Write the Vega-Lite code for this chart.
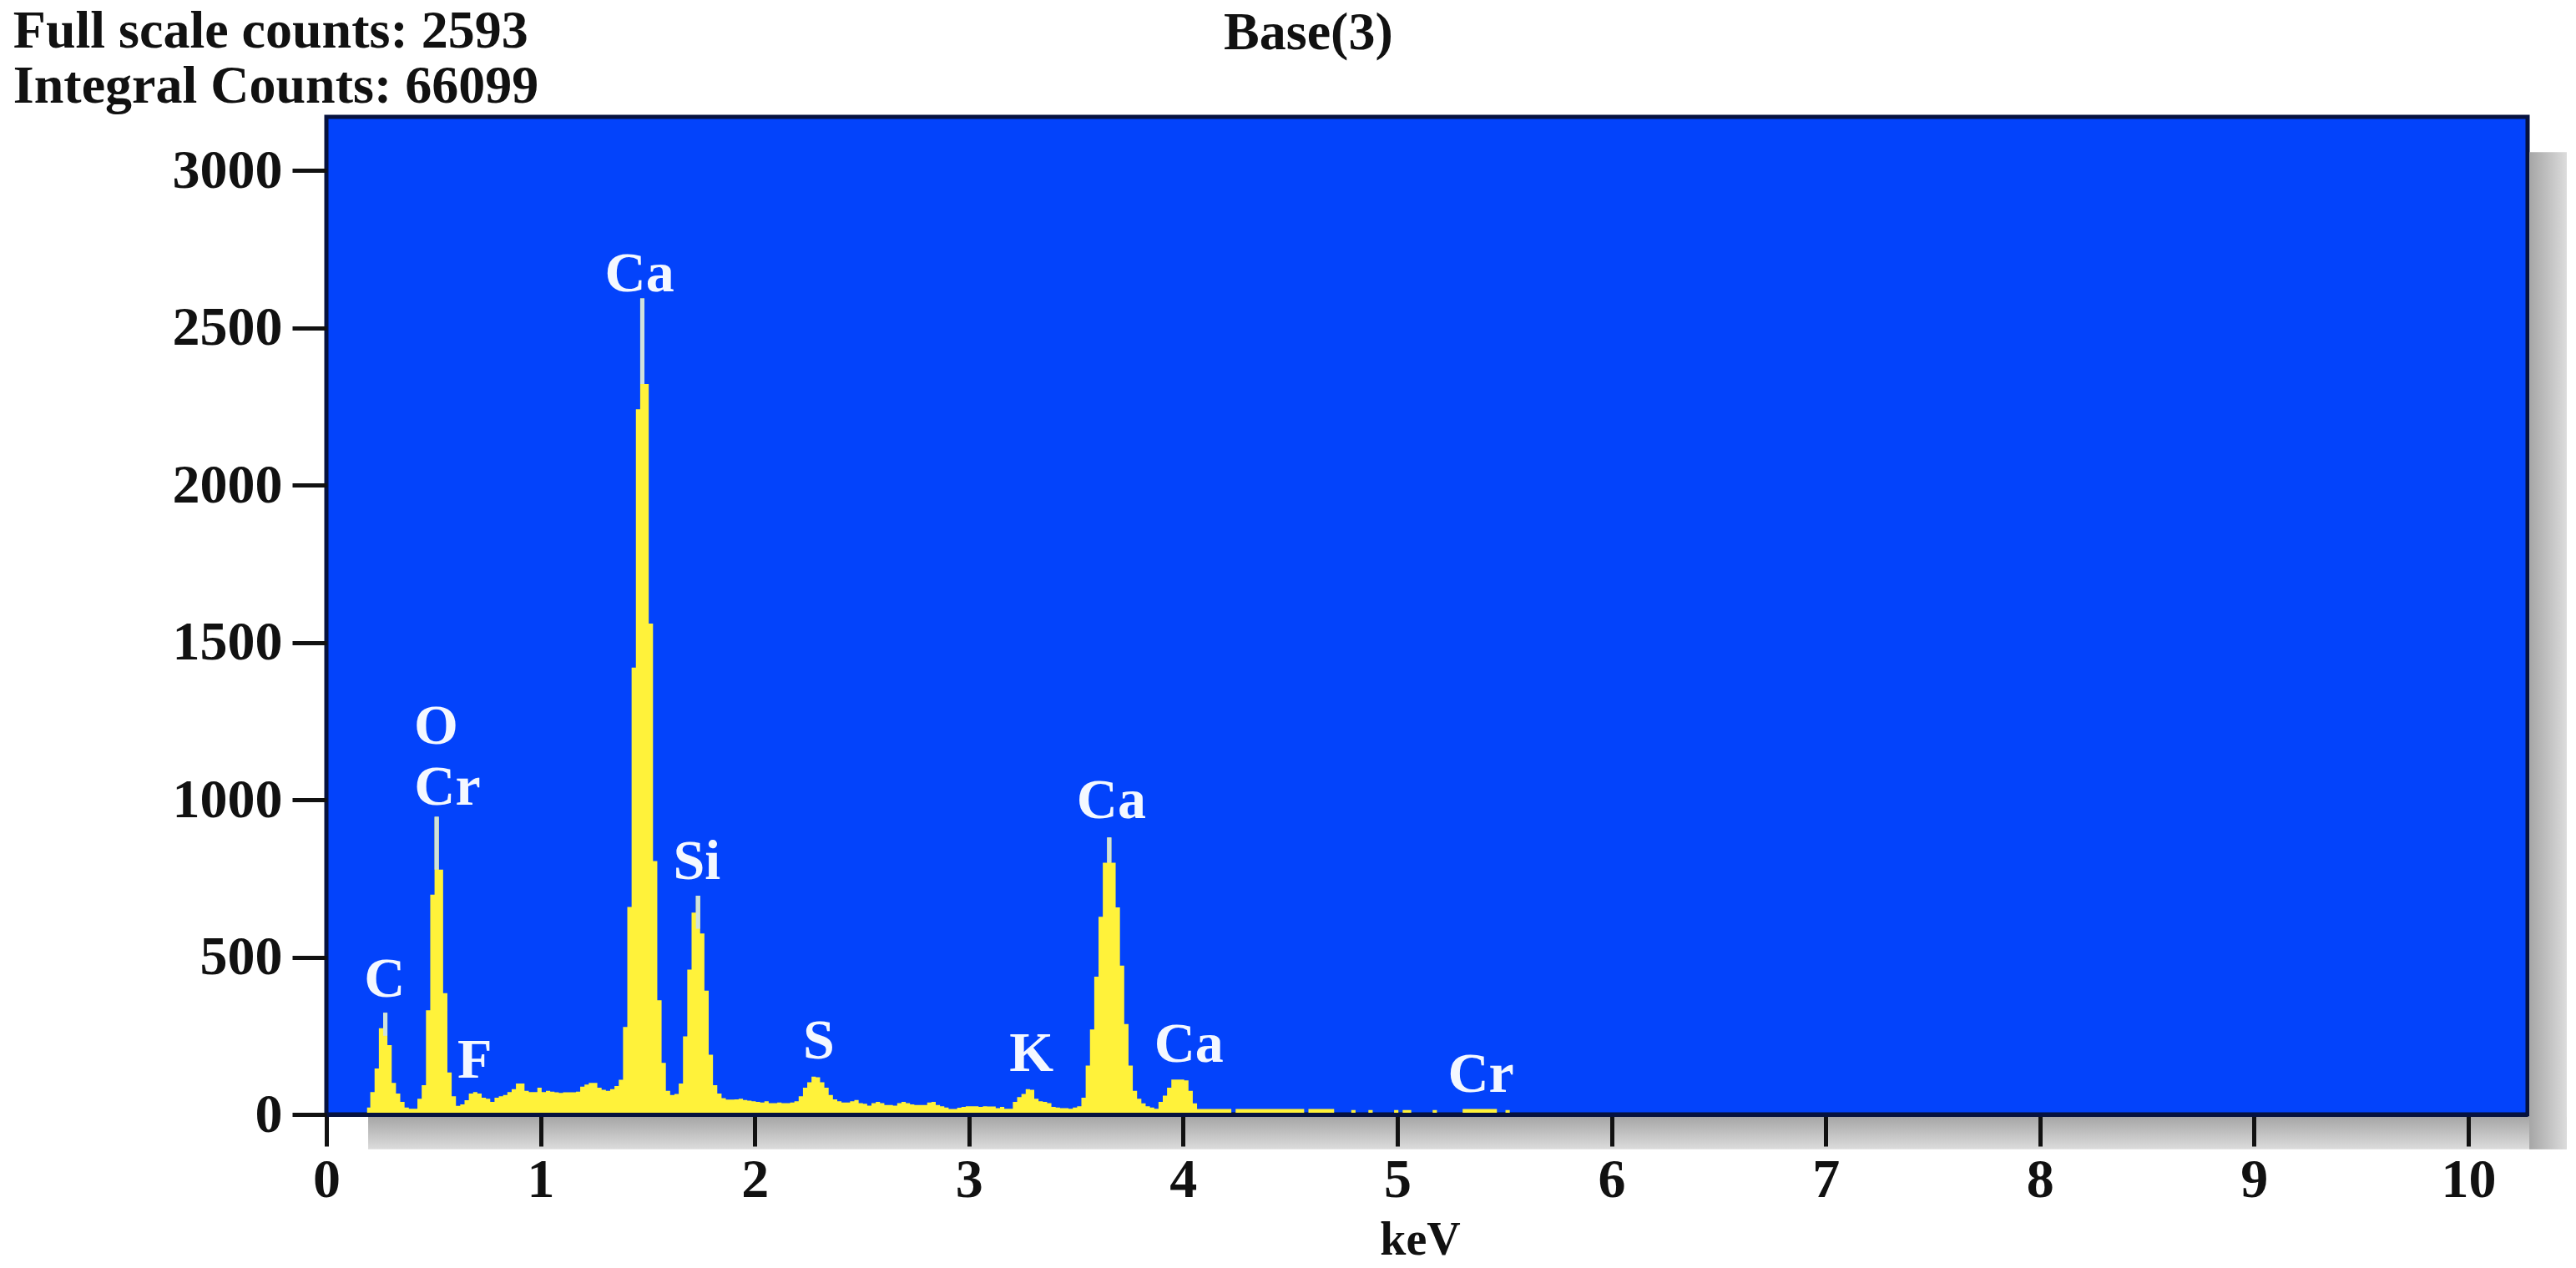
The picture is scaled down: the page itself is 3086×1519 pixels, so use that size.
{
  "$schema": "https://vega.github.io/schema/vega-lite/v6.json",
  "width": 2637,
  "height": 1195,
  "autosize": {"type": "none"},
  "padding": {"left": 391, "top": 140, "right": 58, "bottom": 184},
  "background": "#ffffff",
  "view": {"fill": "#0343fb", "stroke": "#06123f", "strokeWidth": 5},
  "config": {"font": "Liberation Serif"},
  "datasets": {
    "shadow": [
      {"x0": 0.195, "x1": 10.46, "y0": -111, "y1": -8, "side": "bottom"}
    ],
    "shadowRight": [
      {"x0": 10.285, "x1": 10.46, "y0": -111, "y1": 3058, "side": "right"}
    ],
    "spectrum": [
      {"kev": 0.185, "counts": 0}, {"kev": 0.195, "counts": 22}, {"kev": 0.215, "counts": 71}, {"kev": 0.235, "counts": 146}, {"kev": 0.255, "counts": 274}, {"kev": 0.275, "counts": 323}, {"kev": 0.295, "counts": 220}, {"kev": 0.315, "counts": 100}, {"kev": 0.335, "counts": 66}, {"kev": 0.355, "counts": 40}, {"kev": 0.375, "counts": 22}, {"kev": 0.395, "counts": 18}, {"kev": 0.415, "counts": 18}, {"kev": 0.435, "counts": 50}, {"kev": 0.455, "counts": 93}, {"kev": 0.475, "counts": 331}, {"kev": 0.495, "counts": 698}, {"kev": 0.515, "counts": 946}, {"kev": 0.535, "counts": 778}, {"kev": 0.555, "counts": 385}, {"kev": 0.575, "counts": 133}, {"kev": 0.595, "counts": 58}, {"kev": 0.615, "counts": 27}, {"kev": 0.635, "counts": 32}, {"kev": 0.655, "counts": 45}, {"kev": 0.675, "counts": 66}, {"kev": 0.695, "counts": 71}, {"kev": 0.715, "counts": 66}, {"kev": 0.735, "counts": 53}, {"kev": 0.755, "counts": 50}, {"kev": 0.775, "counts": 40}, {"kev": 0.795, "counts": 53}, {"kev": 0.815, "counts": 58}, {"kev": 0.835, "counts": 62}, {"kev": 0.855, "counts": 71}, {"kev": 0.875, "counts": 80}, {"kev": 0.895, "counts": 98}, {"kev": 0.915, "counts": 98}, {"kev": 0.935, "counts": 75}, {"kev": 0.955, "counts": 71}, {"kev": 0.975, "counts": 71}, {"kev": 0.995, "counts": 85},
      {"kev": 1.015, "counts": 71}, {"kev": 1.035, "counts": 75}, {"kev": 1.055, "counts": 72}, {"kev": 1.075, "counts": 70}, {"kev": 1.095, "counts": 68}, {"kev": 1.115, "counts": 70}, {"kev": 1.135, "counts": 70}, {"kev": 1.155, "counts": 70}, {"kev": 1.175, "counts": 72}, {"kev": 1.195, "counts": 88}, {"kev": 1.215, "counts": 95}, {"kev": 1.235, "counts": 100}, {"kev": 1.255, "counts": 100}, {"kev": 1.275, "counts": 85}, {"kev": 1.295, "counts": 78}, {"kev": 1.315, "counts": 75}, {"kev": 1.335, "counts": 80}, {"kev": 1.355, "counts": 90}, {"kev": 1.375, "counts": 110}, {"kev": 1.395, "counts": 278}, {"kev": 1.415, "counts": 659}, {"kev": 1.435, "counts": 1420}, {"kev": 1.455, "counts": 2241}, {"kev": 1.475, "counts": 2593}, {"kev": 1.495, "counts": 2321}, {"kev": 1.515, "counts": 1560}, {"kev": 1.535, "counts": 805}, {"kev": 1.555, "counts": 363}, {"kev": 1.575, "counts": 164}, {"kev": 1.595, "counts": 75}, {"kev": 1.615, "counts": 62}, {"kev": 1.635, "counts": 65}, {"kev": 1.655, "counts": 98}, {"kev": 1.675, "counts": 248}, {"kev": 1.695, "counts": 460}, {"kev": 1.715, "counts": 641}, {"kev": 1.735, "counts": 695}, {"kev": 1.755, "counts": 575}, {"kev": 1.775, "counts": 393}, {"kev": 1.795, "counts": 190}, {"kev": 1.815, "counts": 93}, {"kev": 1.835, "counts": 66}, {"kev": 1.855, "counts": 52}, {"kev": 1.875, "counts": 47}, {"kev": 1.895, "counts": 47}, {"kev": 1.915, "counts": 48}, {"kev": 1.935, "counts": 50}, {"kev": 1.955, "counts": 46}, {"kev": 1.975, "counts": 44}, {"kev": 1.995, "counts": 42},
      {"kev": 2.015, "counts": 40}, {"kev": 2.035, "counts": 38}, {"kev": 2.055, "counts": 42}, {"kev": 2.075, "counts": 36}, {"kev": 2.095, "counts": 36}, {"kev": 2.115, "counts": 38}, {"kev": 2.135, "counts": 36}, {"kev": 2.155, "counts": 36}, {"kev": 2.175, "counts": 38}, {"kev": 2.195, "counts": 42}, {"kev": 2.215, "counts": 58}, {"kev": 2.235, "counts": 85}, {"kev": 2.255, "counts": 102}, {"kev": 2.275, "counts": 120}, {"kev": 2.295, "counts": 118}, {"kev": 2.315, "counts": 102}, {"kev": 2.335, "counts": 85}, {"kev": 2.355, "counts": 62}, {"kev": 2.375, "counts": 48}, {"kev": 2.395, "counts": 42}, {"kev": 2.415, "counts": 38}, {"kev": 2.435, "counts": 38}, {"kev": 2.455, "counts": 42}, {"kev": 2.475, "counts": 46}, {"kev": 2.495, "counts": 36}, {"kev": 2.515, "counts": 34}, {"kev": 2.535, "counts": 28}, {"kev": 2.555, "counts": 36}, {"kev": 2.575, "counts": 40}, {"kev": 2.595, "counts": 36}, {"kev": 2.615, "counts": 30}, {"kev": 2.635, "counts": 30}, {"kev": 2.655, "counts": 28}, {"kev": 2.675, "counts": 36}, {"kev": 2.695, "counts": 40}, {"kev": 2.715, "counts": 36}, {"kev": 2.735, "counts": 32}, {"kev": 2.755, "counts": 30}, {"kev": 2.775, "counts": 30}, {"kev": 2.795, "counts": 30}, {"kev": 2.815, "counts": 38}, {"kev": 2.835, "counts": 40}, {"kev": 2.855, "counts": 30}, {"kev": 2.875, "counts": 26}, {"kev": 2.895, "counts": 22}, {"kev": 2.915, "counts": 17}, {"kev": 2.935, "counts": 17}, {"kev": 2.955, "counts": 21}, {"kev": 2.975, "counts": 24}, {"kev": 2.995, "counts": 26},
      {"kev": 3.015, "counts": 26}, {"kev": 3.035, "counts": 26}, {"kev": 3.055, "counts": 24}, {"kev": 3.075, "counts": 26}, {"kev": 3.095, "counts": 25}, {"kev": 3.115, "counts": 25}, {"kev": 3.135, "counts": 20}, {"kev": 3.155, "counts": 24}, {"kev": 3.175, "counts": 18}, {"kev": 3.195, "counts": 18}, {"kev": 3.215, "counts": 40}, {"kev": 3.235, "counts": 55}, {"kev": 3.255, "counts": 65}, {"kev": 3.275, "counts": 80}, {"kev": 3.295, "counts": 78}, {"kev": 3.315, "counts": 50}, {"kev": 3.335, "counts": 42}, {"kev": 3.355, "counts": 40}, {"kev": 3.375, "counts": 36}, {"kev": 3.395, "counts": 24}, {"kev": 3.415, "counts": 22}, {"kev": 3.435, "counts": 20}, {"kev": 3.455, "counts": 20}, {"kev": 3.475, "counts": 18}, {"kev": 3.495, "counts": 22}, {"kev": 3.515, "counts": 26}, {"kev": 3.535, "counts": 53}, {"kev": 3.555, "counts": 155}, {"kev": 3.575, "counts": 270}, {"kev": 3.595, "counts": 438}, {"kev": 3.615, "counts": 628}, {"kev": 3.635, "counts": 800}, {"kev": 3.655, "counts": 880}, {"kev": 3.675, "counts": 800}, {"kev": 3.695, "counts": 658}, {"kev": 3.715, "counts": 473}, {"kev": 3.735, "counts": 287}, {"kev": 3.755, "counts": 155}, {"kev": 3.775, "counts": 75}, {"kev": 3.795, "counts": 50}, {"kev": 3.815, "counts": 35}, {"kev": 3.835, "counts": 26}, {"kev": 3.855, "counts": 22}, {"kev": 3.875, "counts": 18}, {"kev": 3.895, "counts": 40}, {"kev": 3.915, "counts": 60}, {"kev": 3.935, "counts": 85}, {"kev": 3.955, "counts": 111}, {"kev": 3.975, "counts": 111}, {"kev": 3.995, "counts": 111},
      {"kev": 4.015, "counts": 108}, {"kev": 4.035, "counts": 75}, {"kev": 4.055, "counts": 35}, {"kev": 4.075, "counts": 17}, {"kev": 4.095, "counts": 17}, {"kev": 4.115, "counts": 17}, {"kev": 4.135, "counts": 17}, {"kev": 4.155, "counts": 17}, {"kev": 4.175, "counts": 17}, {"kev": 4.195, "counts": 17}, {"kev": 4.215, "counts": 17}, {"kev": 4.235, "counts": 0}, {"kev": 4.255, "counts": 17}, {"kev": 4.275, "counts": 17}, {"kev": 4.295, "counts": 17}, {"kev": 4.315, "counts": 17}, {"kev": 4.335, "counts": 17}, {"kev": 4.355, "counts": 17}, {"kev": 4.375, "counts": 17}, {"kev": 4.395, "counts": 17}, {"kev": 4.415, "counts": 17}, {"kev": 4.435, "counts": 17}, {"kev": 4.455, "counts": 17}, {"kev": 4.475, "counts": 17}, {"kev": 4.495, "counts": 17}, {"kev": 4.515, "counts": 17}, {"kev": 4.535, "counts": 17}, {"kev": 4.555, "counts": 17}, {"kev": 4.575, "counts": 0}, {"kev": 4.595, "counts": 17}, {"kev": 4.615, "counts": 17}, {"kev": 4.635, "counts": 17}, {"kev": 4.655, "counts": 17}, {"kev": 4.675, "counts": 17}, {"kev": 4.695, "counts": 17}, {"kev": 4.715, "counts": 0}, {"kev": 4.735, "counts": 0}, {"kev": 4.755, "counts": 0}, {"kev": 4.775, "counts": 0}, {"kev": 4.795, "counts": 14}, {"kev": 4.815, "counts": 0}, {"kev": 4.835, "counts": 0}, {"kev": 4.855, "counts": 0}, {"kev": 4.875, "counts": 14}, {"kev": 4.895, "counts": 0}, {"kev": 4.915, "counts": 0}, {"kev": 4.935, "counts": 0}, {"kev": 4.955, "counts": 0}, {"kev": 4.975, "counts": 0}, {"kev": 4.995, "counts": 14},
      {"kev": 5.015, "counts": 0}, {"kev": 5.035, "counts": 14}, {"kev": 5.055, "counts": 14}, {"kev": 5.075, "counts": 0}, {"kev": 5.095, "counts": 0}, {"kev": 5.115, "counts": 0}, {"kev": 5.135, "counts": 0}, {"kev": 5.155, "counts": 0}, {"kev": 5.175, "counts": 14}, {"kev": 5.195, "counts": 0}, {"kev": 5.215, "counts": 0}, {"kev": 5.235, "counts": 0}, {"kev": 5.255, "counts": 0}, {"kev": 5.275, "counts": 0}, {"kev": 5.295, "counts": 0}, {"kev": 5.315, "counts": 17}, {"kev": 5.335, "counts": 17}, {"kev": 5.355, "counts": 17}, {"kev": 5.375, "counts": 17}, {"kev": 5.395, "counts": 17}, {"kev": 5.415, "counts": 17}, {"kev": 5.435, "counts": 17}, {"kev": 5.455, "counts": 17}, {"kev": 5.475, "counts": 0}, {"kev": 5.495, "counts": 0}, {"kev": 5.515, "counts": 14}, {"kev": 5.535, "counts": 0}
    ],
    "spikes": [
      {"kev": 0.275, "top": 323, "low": 250},
      {"kev": 0.515, "top": 946, "low": 778},
      {"kev": 1.475, "top": 2593, "low": 2321},
      {"kev": 1.735, "top": 695, "low": 590},
      {"kev": 3.655, "top": 880, "low": 800}
    ],
    "elements": [
      {"kev": 0.272, "counts": 427, "label": "C"},
      {"kev": 0.512, "counts": 1230, "label": "O"},
      {"kev": 0.565, "counts": 1036, "label": "Cr"},
      {"kev": 0.693, "counts": 170, "label": "F"},
      {"kev": 1.462, "counts": 2668, "label": "Ca"},
      {"kev": 1.73, "counts": 801, "label": "Si"},
      {"kev": 2.299, "counts": 230, "label": "S"},
      {"kev": 3.292, "counts": 191, "label": "K"},
      {"kev": 3.665, "counts": 994, "label": "Ca"},
      {"kev": 4.027, "counts": 219, "label": "Ca"},
      {"kev": 5.39, "counts": 124, "label": "Cr"}
    ],
    "header": [
      {"kev": -1.462, "counts": 3440, "label": "Full scale counts: 2593"},
      {"kev": -1.462, "counts": 3265, "label": "Integral Counts: 66099"},
      {"kev": 4.19, "counts": 3435, "label": "Base(3)"}
    ]
  },
  "encoding": {
    "x": {
      "field": "kev",
      "type": "quantitative",
      "scale": {"domain": [0, 10.277], "nice": false, "zero": false},
      "axis": {
        "title": "keV",
        "titleX": 1310,
        "values": [0, 1, 2, 3, 4, 5, 6, 7, 8, 9, 10],
        "format": "d",
        "grid": false,
        "zindex": 1,
        "domain": true,
        "domainColor": "#06123f",
        "domainWidth": 5,
        "tickColor": "#111111",
        "tickWidth": 5,
        "tickSize": 38,
        "labelFlush": false,
        "labelOverlap": false,
        "labelFont": "Liberation Serif",
        "labelFontWeight": "bold",
        "labelFontSize": 66,
        "labelColor": "#111111",
        "labelPadding": 8,
        "titleFont": "Liberation Serif",
        "titleFontWeight": "bold",
        "titleFontSize": 56,
        "titleColor": "#111111",
        "titlePadding": 12
      }
    },
    "y": {
      "field": "counts",
      "type": "quantitative",
      "stack": null,
      "scale": {"domain": [0, 3170], "nice": false},
      "axis": {
        "title": null,
        "values": [0, 500, 1000, 1500, 2000, 2500, 3000],
        "format": "d",
        "grid": false,
        "zindex": 1,
        "domain": false,
        "tickColor": "#111111",
        "tickWidth": 5,
        "tickSize": 41,
        "labelOverlap": false,
        "labelFont": "Liberation Serif",
        "labelFontWeight": "bold",
        "labelFontSize": 66,
        "labelColor": "#111111",
        "labelPadding": 12
      }
    }
  },
  "layer": [
    {
      "data": {"name": "shadow"},
      "mark": {
        "type": "rect",
        "color": {"gradient": "linear", "x1": 0, "y1": 0, "x2": 0, "y2": 1, "stops": [{"offset": 0, "color": "#a6a6a6"}, {"offset": 1, "color": "#dcdcdc"}]}
      },
      "encoding": {
        "x": {"field": "x0", "type": "quantitative"},
        "x2": {"field": "x1"},
        "y": {"field": "y0", "type": "quantitative"},
        "y2": {"field": "y1"}
      }
    },
    {
      "data": {"name": "shadowRight"},
      "mark": {
        "type": "rect",
        "color": {"gradient": "linear", "x1": 0, "y1": 0, "x2": 1, "y2": 0, "stops": [{"offset": 0, "color": "#a6a6a6"}, {"offset": 1, "color": "#dcdcdc"}]}
      },
      "encoding": {
        "x": {"field": "x0", "type": "quantitative"},
        "x2": {"field": "x1"},
        "y": {"field": "y0", "type": "quantitative"},
        "y2": {"field": "y1"}
      }
    },
    {
      "data": {"name": "spectrum"},
      "mark": {"type": "area", "interpolate": "step", "color": "#fff23a"}
    },
    {
      "data": {"name": "spikes"},
      "mark": {"type": "rule", "color": "#cfe2dc", "strokeWidth": 5},
      "encoding": {
        "y": {"field": "top", "type": "quantitative"},
        "y2": {"field": "low"}
      }
    },
    {
      "data": {"name": "elements"},
      "mark": {"type": "text", "font": "Liberation Serif", "fontWeight": "bold", "fontSize": 68, "color": "#f4f8ff", "baseline": "middle", "align": "center"},
      "encoding": {"text": {"field": "label"}}
    },
    {
      "data": {"name": "header"},
      "mark": {"type": "text", "font": "Liberation Serif", "fontWeight": "bold", "fontSize": 64, "color": "#111111", "baseline": "middle", "align": "left"},
      "encoding": {"text": {"field": "label"}}
    }
  ]
}
